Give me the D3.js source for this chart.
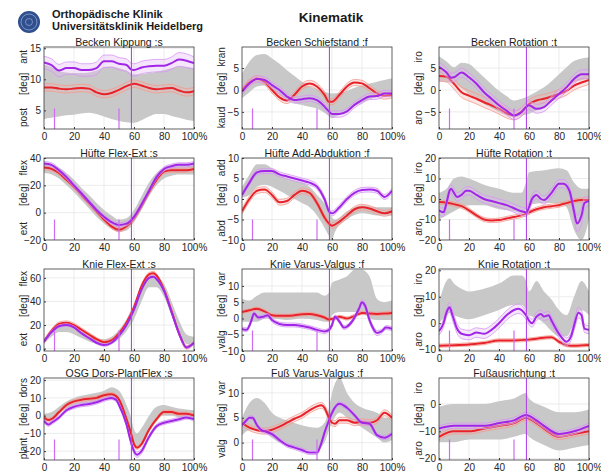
<!DOCTYPE html>
<html><head><meta charset="utf-8">
<script src="https://cdn.jsdelivr.net/npm/d3@7"></script>
<style>body{margin:0;background:#fff;} text{font-family:"Liberation Sans",Arial,sans-serif;}</style>
</head><body><svg id="c" width="601" height="473"></svg>
<script>
// ---------- shared ----------
const xTicks = [0,20,40,60,80,100];
const xTickLabels = ["0","20","40","60","80","100%"];
const eventFull = 58.3;
const eventShort = [7, 50];
const titles = ["Becken Kippung :s","Becken Schiefstand :f","Becken Rotation :t",
  "Hüfte Flex-Ext :s","Hüfte Add-Abduktion :f","Hüfte Rotation :t",
  "Knie Flex-Ext :s","Knie Varus-Valgus :f","Knie Rotation :t",
  "OSG Dors-PlantFlex :s","Fuß Varus-Valgus :f","Fußausrichtung :t"];
const sideLabels = [["ant","post"],["kran","kaud"],["iro","aro"],["flex","ext"],["add","abd"],["iro","aro"],
  ["flex","ext"],["var","valg"],["iro","aro"],["dors","plant"],["var","valg"],["iro","aro"]];
const yDomains = [[2,15.2],[-8.9,9.8],[-8.9,9.8],[-20,40],[-10,10],[-20,20],[-2,67.5],[-10,15.2],[-10.5,20.5],[-25,21.2],[-3.5,13],[-20.5,9.5]];
const yTicks = [[5,10,15],[-5,0,5],[-5,0,5],[-20,0,20,40],[-10,-5,0,5,10],[-20,-10,0,10,20],[0,20,40,60],[-10,-5,0,5,10],[-10,0,10,20],[-20,-10,0,10,20],[0,5,10],[-20,-10,0]];

// ---------- data: norm band [x, lo, hi]; series [x, mean, spread] ----------
const kippNorm = [[0,3.6,12.4],[5,3.8,12.0],[10,4.0,11.3],[15,4.2,11.1],[20,4.3,11.0],[25,4.5,11.0],[30,4.6,11.1],[35,4.4,11.4],[40,4.0,12.0],[45,3.6,12.1],[50,3.3,11.8],[55,3.1,11.4],[60,3.0,10.8],[65,3.4,10.8],[70,4.0,11.0],[75,4.4,11.2],[80,4.4,11.5],[85,4.1,11.8],[90,3.8,12.1],[95,3.5,12.0],[100,3.3,11.8]];
const kippRed = [[0,8.7,.6],[5,8.7,.6],[10,8.5,.6],[15,8.4,.6],[20,8.5,.6],[25,8.6,.6],[30,8.5,.6],[35,7.9,.6],[40,7.6,.6],[45,7.8,.6],[50,8.3,.6],[55,8.9,.6],[60,9.3,.6],[65,9.0,.6],[70,8.6,.6],[75,8.4,.6],[80,8.5,.6],[85,8.6,.6],[90,8.2,.6],[95,7.9,.6],[100,8.1,.6]];
const kippPur = [[0,12.7,1],[5,12.3,1],[10,11.4,1],[15,11.8,1],[20,11.8,1],[25,11.5,1],[30,11.5,1],[35,11.8,1],[40,12.9,1],[45,12.9,1],[50,12.5,1],[55,12.3,1],[58,11.6,1],[60,11.5,1],[65,11.9,1],[70,12.1,1],[75,12.2,1],[80,12.2,1],[85,12.6,1],[90,13.2,1.1],[95,13.0,1.1],[100,12.6,1]];

const schiefNorm = [[0,-1.9,3.8],[5,-0.5,6.5],[10,0.8,8.0],[15,1.0,8.2],[20,0,7.2],[25,-1.2,6.0],[30,-2.3,4.5],[35,-3.0,3.2],[40,-3.4,1.9],[45,-3.8,0.8],[50,-4.2,0.15],[55,-5.2,-0.4],[60,-6.4,-0.8],[65,-5.6,-0.7],[70,-4.5,-0.2],[75,-3.6,0.5],[80,-3.0,1.1],[85,-2.2,1.5],[90,-1.5,1.9],[95,-1.2,2.3],[100,-1.1,2.6]];
const schiefRed = [[0,0,.7],[5,1.7,.7],[10,2.6,.7],[15,1.9,.7],[20,0,.7],[25,-1.7,.7],[30,-2.4,.7],[35,-1.1,.7],[40,0.8,.7],[45,1.5,.7],[50,0.8,.7],[55,-1.1,.7],[58,-2.7,.7],[60,-2.7,.7],[65,-1.1,.7],[70,0.8,.7],[75,1.7,.7],[80,1.5,.7],[85,0.4,.7],[90,-0.8,.7],[95,-1.4,.7],[100,-1.1,.7]];
const schiefPur = [[0,-0.4,.7],[5,1.5,.7],[10,2.5,.7],[15,2.3,.7],[20,1.1,.7],[25,0,.7],[30,-1.5,.7],[35,-2.3,.7],[40,-2.1,.7],[45,-1.9,.7],[50,-2.3,.7],[55,-3.8,.7],[58,-4.9,.7],[60,-5.5,.7],[65,-5.5,.7],[70,-4.9,.7],[75,-3.4,.7],[80,-2.3,.7],[85,-1.5,.7],[90,-1.4,.7],[95,-0.8,.7],[100,-0.8,.7]];

const rotNorm = [[0,2.0,7.7],[5,1.8,6.5],[10,1.4,5.2],[15,0.4,6.2],[20,-0.9,5.9],[25,-2.0,4.5],[30,-3.2,2.9],[35,-4.1,1.3],[40,-5.0,-0.2],[45,-5.7,-1.4],[50,-6.2,-2.4],[55,-5.8,-2.0],[60,-5.4,-1.3],[65,-4.7,-0.4],[70,-3.9,0.6],[75,-2.5,2.0],[80,-0.9,3.6],[85,0.4,5.2],[90,1.7,6.6],[95,2.2,7.2],[100,2.5,7.4]];
const rotRed = [[0,3.2,1.2],[5,3.0,1.2],[10,1.4,1.2],[15,-0.5,1.2],[20,-1.3,1.2],[25,-2.0,1.2],[30,-2.8,1.2],[35,-3.5,1.2],[40,-4.3,1.2],[45,-5.3,1.1],[50,-5.8,1],[55,-5.0,1],[60,-3.2,1],[65,-2.4,1],[70,-2.0,1],[75,-1.5,1],[80,-0.9,1],[85,-0.2,1],[90,1.0,1],[95,1.7,1],[100,2.3,1]];
const rotPur = [[0,5.3,1],[5,4.0,1],[8,2.8,1],[10,2.9,1],[15,4.0,1],[20,2.9,1],[25,1.4,1],[30,-0.5,1],[35,-2.0,1],[40,-3.5,1],[45,-4.7,1],[50,-5.8,1],[55,-5.0,1],[58,-3.9,1],[60,-3.5,1],[65,-4.3,1],[70,-3.9,1],[75,-2.4,1],[80,-0.9,1],[85,0.6,1],[90,2.5,1],[95,3.6,1],[100,3.6,1]];

const hflexNorm = [[0,29,36],[5,28,35],[10,25,33],[15,20,29],[20,15,24],[25,9,18],[30,3,13],[35,-3,7],[40,-8,2],[45,-12,-2],[50,-14,-5],[55,-13,-4],[60,-7,2],[65,2,12],[70,12,22],[75,20,29],[80,25,33],[85,27,35],[90,28,36],[95,28,36],[100,28,36]];
const hflexRed = [[0,33,1.5],[5,32,1.5],[10,29,1.5],[15,24,1.5],[20,19,1.5],[25,13,1.5],[30,7,1.5],[35,1,1.5],[40,-5,1.5],[45,-10,1.5],[50,-12.5,1.5],[55,-10,1.5],[60,-4,1.5],[65,5,1.5],[70,15,1.5],[75,24,1.5],[80,30,1.5],[85,31,1.5],[90,31,1.5],[95,31,1.5],[100,32,1.5]];
const hflexPur = [[0,36,1.5],[5,35,1.5],[10,31,1.5],[15,26,1.5],[20,20,1.5],[25,14,1.5],[30,8,1.5],[35,2,1.5],[40,-3,1.5],[45,-7,1.5],[50,-9,1.5],[55,-8,1.5],[60,-3,1.5],[65,6,1.5],[70,16,1.5],[75,26,1.5],[80,32,1.5],[85,34,1.5],[90,35,1.5],[95,35,1.5],[100,36,1.5]];

const haddNorm = [[0,0.4,3],[5,1,6],[10,3,8.5],[15,3.5,8.5],[20,3,7.5],[25,2,6.2],[30,1,5],[35,0,4.5],[40,-1,4],[45,-2,3],[50,-4,1],[55,-7,-1],[58,-9,-3],[60,-10,-4.5],[62,-8,-5],[70,-5,-3],[80,-3.5,-1.5],[90,-4,-2],[100,-4,-2]];
const haddRed = [[0,-3,.7],[5,0,.7],[10,2,.7],[15,2.3,.7],[20,1,.7],[25,-0.8,.7],[30,-0.5,.7],[35,1,.7],[40,2,.7],[45,1.5,.7],[50,-1,.7],[55,-4.5,.7],[58,-6,.7],[60,-6.5,.7],[65,-5.5,.7],[70,-4,.7],[75,-2.5,.7],[80,-2,.7],[85,-2.3,.7],[90,-3,.7],[95,-3.5,.7],[100,-3,.7]];
const haddPur = [[0,1,.6],[5,4,.6],[10,6.5,.6],[15,6.8,.6],[20,6.8,.6],[25,6,.6],[30,5.5,.6],[35,5,.6],[40,4.5,.6],[45,4,.6],[50,3,.6],[55,0,.6],[58,-3,.6],[60,-3.5,.6],[65,-2,.6],[70,0,.6],[75,1.5,.6],[80,2.2,.6],[85,2.3,.6],[90,2,.6],[95,0.5,.6],[100,2,.6]];

const hrotNorm = [[0,-10,3],[5,-8,5],[10,-6,10],[15,-4,11],[20,-3,10],[30,-3,7],[40,-5,5],[50,-6,3],[55,-7,3],[58,-5,8],[60,-3,13],[70,-2,14],[80,-2,15],[85,-4,14],[90,-15,8],[95,-20,5],[100,-10,5]];
const hrotRed = [[0,-1.5,1],[5,-1.8,1],[10,-2.5,1],[15,-3.5,1],[20,-5.5,1],[25,-8,1],[30,-10,1],[35,-10.5,1],[40,-10.3,1],[45,-9.5,1],[50,-8.8,1],[55,-8,1],[60,-6.5,1],[65,-5,1],[70,-4,1],[75,-3.5,1],[80,-3,1],[85,-2,1],[90,-1,1],[95,-0.5,1],[100,-0.5,1]];
const hrotPur = [[0,-5.5,2],[3,-6.5,2],[5,-2,2],[7,4,2],[8,5,2],[10,3,2],[12,1,2],[15,2,2],[18,4,2],[20,4,2],[25,2,2],[30,0,2],[35,-1,2],[40,-2,2],[45,-3,2],[50,-4.5,2],[55,-6,2],[58,-6.5,2],[60,-4,2],[62,0,2],[65,2,2],[68,0,2],[70,-0.5,2],[75,3,2],[80,7.5,2],[83,7.5,2],[87,4,2],[90,-6,3],[92,-12,4],[95,-8,4],[97,-2,3],[100,-1,2]];

const kflexNorm = [[0,4,8],[5,10,15],[10,14,20],[15,14,20],[20,12,18],[25,9,15],[30,6,12],[35,4,9],[40,3,8],[45,4,10],[50,8,16],[55,15,25],[60,25,38],[65,40,52],[70,52,62],[75,52,61],[80,44,55],[85,28,40],[90,12,24],[95,4,12],[100,3,10]];
const kflexRed = [[0,6,1.5],[5,15,1.5],[10,21,1.5],[15,22,1.5],[20,20,1.5],[25,16,1.5],[30,12,1.5],[35,8,1.5],[40,5.5,1.5],[45,7,1.5],[50,13,1.5],[55,22,1.5],[60,35,1.5],[65,53,1.5],[70,63,1.5],[73,64,1.5],[75,62,1.5],[80,50,1.5],[85,32,1.5],[90,13,1.5],[95,1,1.5],[100,5,1.5]];
const kflexPur = [[0,6,1],[5,14,1],[10,19,1],[15,20,1],[20,18,1],[25,13,1],[30,9,1],[35,5,1],[40,3,1],[45,5,1],[50,11,1],[55,20,1],[60,33,1],[65,50,1],[70,60,1],[73,61,1],[75,59,1],[80,49,1],[85,31,1],[90,13,1],[95,1,1],[100,5,1]];

const kvarNorm = [[0,-1,6],[5,-1,5.5],[10,-1,7],[15,0,8],[20,0,8],[30,-0.5,8],[40,0,8],[50,-0.5,8],[55,-1,7],[58,-1,8],[60,1,11],[65,2,12],[70,2,13],[75,2,15],[80,2,15],[85,0,13],[90,-0.5,6],[95,-0.5,5],[100,-0.5,5.5]];
const kvarRed = [[0,2,.5],[5,2.5,.5],[10,3,.5],[15,2.2,.5],[20,1,.5],[25,0.8,.5],[30,0.8,.5],[35,1,.5],[40,1.3,.5],[45,1.4,.5],[50,1,.5],[55,0.3,.5],[58,-0.3,.5],[60,-0.2,.5],[65,0.5,.5],[70,0,.5],[75,0.8,.5],[80,1.7,.5],[85,1.5,.5],[90,1.4,.5],[95,1.5,.5],[100,1.7,.5]];
const kvarPur = [[0,-3.2,.6],[3,-3.5,.6],[6,-1,.6],[8,1.5,.6],[11,0.3,.6],[14,0.5,.6],[17,1,.6],[20,-0.5,.6],[25,-1.7,.6],[30,-2,.6],[35,-2,.6],[40,-2.3,.6],[45,-2.8,.6],[50,-3.5,.6],[55,-4,.6],[58,-3.5,.6],[60,-2,.6],[62,0.5,.6],[65,-1,.6],[68,-2.8,.6],[70,-2.5,.6],[74,-0.5,.6],[78,3,.8],[80,5,.8],[82,4,.8],[85,-0.5,.8],[88,-3.5,.8],[90,-4.5,.8],[93,-4,.6],[96,-2.8,.6],[100,-3.2,.6]];

const krotNorm = [[0,0,8],[5,3,16],[7,4,17],[10,3,15],[15,2,13],[20,1.5,12],[30,3,13],[40,5,15],[50,7,18],[55,7,18],[58,5,16],[60,3,12],[65,2,16],[70,0,12],[75,-3,9],[80,-5,5],[85,-5,3],[90,0,10],[95,5,16],[100,3,12]];
const krotRed = [[0,-8.5,.6],[10,-8.3,.6],[20,-8,.6],[30,-7.5,.6],[40,-6.5,.6],[50,-6.5,.6],[60,-6.2,.6],[70,-5.5,.6],[75,-5.3,.6],[80,-7,.6],[85,-8.3,.6],[90,-8.5,.6],[100,-8.2,.6]];
const krotPur = [[0,-3,1.5],[3,0,1.5],[5,4,1.5],[7,6,1.8],[9,3,1.8],[12,-2,1.8],[15,-4,1.8],[20,-4.5,1.8],[25,-3.5,1.8],[30,-4,1.8],[35,-2.5,1.8],[40,0,1.8],[45,3,1.8],[50,5,1.8],[53,5.5,1.8],[58,3,1.5],[60,1,1.5],[62,0,1.5],[65,2.5,1.5],[68,3.5,1.5],[70,2.5,1.5],[73,3,1.5],[75,1,1.5],[80,-4,1.5],[85,-7,1.5],[88,-5,1.5],[90,-1,1.8],[93,4,2],[95,3,2],[97,-2,1.5],[100,-2.5,1.5]];

const osgNorm = [[0,-3,1],[5,-2,2],[10,1,5],[15,4,8],[20,6,10],[30,7,12],[40,9,14],[45,10,16],[50,8,14],[55,-3,6],[58,-10,-1],[60,-17,-8],[62,-18,-10],[65,-15,-7],[70,-8,0],[75,-2,5],[80,0,6],[85,0,5],[90,-1,4],[100,-2,3]];
const osgRed = [[0,-1,1],[3,-2.5,1],[5,-2,1],[10,2,1],[15,6,1],[20,8,1],[25,9,1],[30,9.5,1],[35,10,1],[40,11.5,1],[45,12,1],[48,11,1],[50,9,1],[55,-2,1],[58,-10,1],[60,-16,1],[62,-18,1],[65,-16,1],[70,-8,1],[75,-2,1],[80,2,1],[85,2,1],[90,1,1],[95,1,1],[100,0,1]];
const osgPur = [[0,-3,1],[3,-5,1],[5,-4,1],[10,-1,1],[15,3,1],[20,5,1],[25,6,1],[30,6.5,1],[35,7.5,1],[40,9,1],[45,10,1],[48,9,1],[50,6,1],[55,-5,1],[58,-15,1],[60,-20,1.5],[62,-22,1.5],[65,-20,1.5],[70,-12,1],[75,-6,1],[80,-4,1],[85,-3,1],[90,-2,1],[95,-1,1],[100,-2,1]];

const fvarNorm = [[0,1.5,5],[5,2.5,8],[10,2.5,9],[15,2,8],[20,1,6],[25,0,5],[30,-0.5,4.5],[40,-1.5,3.5],[50,-1.5,3],[55,0,4],[58,2.5,7],[60,4,10],[65,6,13],[70,5,10],[75,4,8],[80,3,7],[90,1,6],[95,0,5],[100,0.5,5]];
const fvarRed = [[0,4,.6],[5,3,.6],[10,2.5,.6],[15,2.3,.6],[20,2.6,.6],[25,3.2,.6],[30,4,.6],[35,4.8,.6],[40,5.5,.6],[45,6.5,.6],[50,7.3,.6],[53,7.5,.6],[55,7,.6],[58,5,.6],[60,4,.6],[62,3.8,.6],[65,4.5,.6],[70,4.5,.6],[75,4,.6],[80,4.2,.6],[85,4,.6],[90,4.5,.6],[95,6,.6],[100,5,.6]];
const fvarPur = [[0,3.5,.4],[3,4.5,.4],[5,5,.4],[7,5,.4],[10,3.5,.4],[13,2.5,.4],[15,2.3,.4],[20,1.7,.4],[25,0.5,.4],[30,-0.5,.4],[35,-1,.4],[40,-1.5,.4],[45,-2,.4],[50,-2,.4],[53,0,.4],[55,2,.4],[58,4.5,.4],[60,6,.4],[65,7.8,.4],[70,7,.4],[75,5.5,.4],[80,4,.4],[85,3.8,.4],[90,1.5,.4],[95,1,.4],[100,1.8,.4]];

const fausNorm = [[0,-14,-1],[10,-14,0],[20,-13,0],[30,-13,0],[40,-13,1],[50,-12,2],[58,-11,4],[60,-12,2],[70,-15,-1],[80,-17,-3],[90,-16,-3],[100,-15,-2]];
const fausRed = [[0,-12,1],[10,-10,1],[20,-10,1],[30,-9,1],[40,-8,1],[50,-7,1],[58,-5,1],[65,-7,1],[70,-9,1],[80,-12,1],[90,-11,1],[100,-10,1]];
const fausPur = [[0,-9,1],[10,-8,1],[20,-8,1],[30,-8,1],[40,-7,1],[50,-6,1],[58,-4,1],[65,-6,1],[70,-8,1],[80,-11,1],[90,-10,1],[100,-8,1]];

const normSets = [kippNorm,schiefNorm,rotNorm,hflexNorm,haddNorm,hrotNorm,kflexNorm,kvarNorm,krotNorm,osgNorm,fvarNorm,fausNorm];
const redSets = [kippRed,schiefRed,rotRed,hflexRed,haddRed,hrotRed,kflexRed,kvarRed,krotRed,osgRed,fvarRed,fausRed];
const purSets = [kippPur,schiefPur,rotPur,hflexPur,haddPur,hrotPur,kflexPur,kvarPur,krotPur,osgPur,fvarPur,fausPur];

// ---------- layout ----------
const colLeft = [44, 242, 439];
const rowTop = [47, 158, 269, 378];
const PW = 150, PH = 82;

const svg = d3.select("#c");

// header
const logo = svg.append("g");
logo.append("circle").attr("cx",29).attr("cy",22).attr("r",11).attr("fill","#2f4f8f");
logo.append("circle").attr("cx",29).attr("cy",22).attr("r",8).attr("fill","none").attr("stroke","#8fa6cf").attr("stroke-width",0.8);
logo.append("circle").attr("cx",29).attr("cy",22).attr("r",3.5).attr("fill","none").attr("stroke","#a7b9da").attr("stroke-width",0.6);
svg.append("text").attr("x",52).attr("y",18).attr("font-size",11).attr("font-weight","bold").attr("fill","#1a1a1a").text("Orthopädische Klinik");
svg.append("text").attr("x",52).attr("y",30).attr("font-size",11).attr("font-weight","bold").attr("fill","#1a1a1a").text("Universitätsklinik Heidelberg");
svg.append("text").attr("x",331).attr("y",22).attr("text-anchor","middle").attr("font-size",13.5).attr("font-weight","bold").attr("fill","#1a1a1a").text("Kinematik");

const curve = d3.curveMonotoneX;

titles.forEach((title,i)=>{
  const col = i%3, row = Math.floor(i/3);
  const L = colLeft[col], T = rowTop[row];
  const x = d3.scaleLinear().domain([0,100]).range([L, L+PW]);
  const y = d3.scaleLinear().domain(yDomains[i]).range([T+PH, T]);
  const g = svg.append("g");
  const cid = "clip"+i;
  svg.append("clipPath").attr("id",cid).append("rect").attr("x",L).attr("y",T).attr("width",PW).attr("height",PH);
  const pg = g.append("g").attr("clip-path",`url(#${cid})`);

  // grid
  xTicks.slice(1,-1).forEach(t=>{
    pg.append("line").attr("x1",x(t)).attr("x2",x(t)).attr("y1",T).attr("y2",T+PH).attr("stroke","#e4e4e4").attr("stroke-width",0.7);
  });
  yTicks[i].forEach(t=>{
    pg.append("line").attr("x1",L).attr("x2",L+PW).attr("y1",y(t)).attr("y2",y(t)).attr("stroke","#e4e4e4").attr("stroke-width",0.7);
  });

  // norm band
  pg.append("path").datum(normSets[i])
    .attr("d", d3.area().x(d=>x(d[0])).y0(d=>y(d[1])).y1(d=>y(d[2])).curve(curve))
    .attr("fill","#c8c8c8");

  // series
  const drawSeries = (data, main, light, fill) => {
    pg.append("path").datum(data)
      .attr("d", d3.area().x(d=>x(d[0])).y0(d=>y(d[1]-d[2])).y1(d=>y(d[1]+d[2])).curve(curve))
      .attr("fill", fill).attr("opacity",0.35);
    [1,-1].forEach(s=>{
      pg.append("path").datum(data)
        .attr("d", d3.line().x(d=>x(d[0])).y(d=>y(d[1]+s*d[2])).curve(curve))
        .attr("fill","none").attr("stroke", light).attr("stroke-width",0.8);
    });
    pg.append("path").datum(data)
      .attr("d", d3.line().x(d=>x(d[0])).y(d=>y(d[1])).curve(curve))
      .attr("fill","none").attr("stroke", main).attr("stroke-width",2);
  };
  drawSeries(redSets[i], "#e8222a", "#f29a8f", "#f7b3b0");
  drawSeries(purSets[i], "#a126e8", "#d596f2", "#e2b7f5");

  // event lines
  eventShort.forEach(e=>{
    pg.append("line").attr("x1",x(e)).attr("x2",x(e)).attr("y1",T+PH).attr("y2",T+PH*0.75)
      .attr("stroke","#cf6cf2").attr("stroke-width",1.2);
  });
  pg.append("line").attr("x1",x(eventFull)).attr("x2",x(eventFull)).attr("y1",T).attr("y2",T+PH)
    .attr("stroke","#b048e6").attr("stroke-width",1.1);

  // box
  g.append("rect").attr("x",L).attr("y",T).attr("width",PW).attr("height",PH)
    .attr("fill","none").attr("stroke","#3a3a3a").attr("stroke-width",0.8);

  // axes
  const xa = g.append("g").attr("transform",`translate(0,${T+PH})`)
    .call(d3.axisBottom(x).tickValues(xTicks).tickFormat((d,k)=>xTickLabels[k]).tickSizeInner(-2).tickSizeOuter(0).tickPadding(3));
  xa.select(".domain").remove();
  xa.selectAll("line").attr("stroke","#3a3a3a");
  xa.selectAll("text").attr("font-size",10).attr("fill","#262626").attr("dy","0.8em")
    .attr("font-family","Liberation Sans, Arial, sans-serif");
  const ya = g.append("g").attr("transform",`translate(${L},0)`)
    .call(d3.axisLeft(y).tickValues(yTicks[i]).tickSizeInner(-2).tickSizeOuter(0).tickPadding(3));
  ya.select(".domain").remove();
  ya.selectAll("line").attr("stroke","#3a3a3a");
  ya.selectAll("text").attr("font-size",10).attr("fill","#262626")
    .attr("font-family","Liberation Sans, Arial, sans-serif");

  // side labels
  const sx = L - 21;
  const side = [[sideLabels[i][0], T+PH*0.12],["[deg]", T+PH*0.45],[sideLabels[i][1], T+PH*0.86]];
  side.forEach(([t,yy])=>{
    g.append("text").attr("transform",`translate(${sx},${yy}) rotate(-90)`)
      .attr("text-anchor","middle").attr("dy","0.35em").attr("font-size",10).attr("fill","#262626").text(t);
  });

  // title
  g.append("text").attr("x",L+PW/2).attr("y",T-1.5).attr("text-anchor","middle")
    .attr("font-size",10.5).attr("fill","#1a1a1a").text(title);
});
</script></body></html>
